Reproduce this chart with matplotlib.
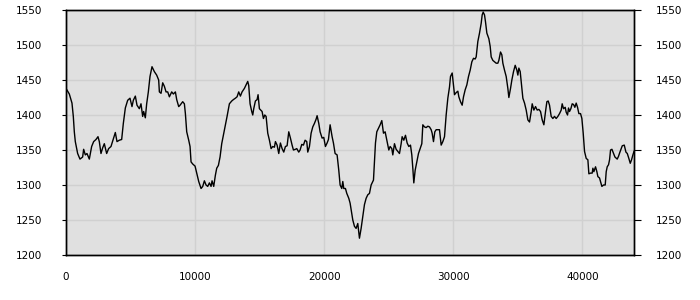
import matplotlib
matplotlib.use("Agg")
import matplotlib.pyplot as plt

x_values = [
    0, 256, 463, 566, 644, 721, 902, 1083, 1289, 1367, 1496, 1625, 1806, 1987,
    2142, 2322, 2478, 2581, 2710, 2839, 2968, 3149, 3304, 3485, 3666, 3821,
    3950, 4131, 4312, 4441, 4596, 4777, 4957, 5112, 5216, 5371, 5500, 5681,
    5810, 5939, 6016, 6145, 6249, 6378, 6507, 6662, 6843, 7024, 7179,
    7233, 7362, 7491, 7620, 7750, 7879, 8008, 8189, 8318, 8473, 8576, 8731,
    8835, 9041, 9170, 9248, 9351, 9506, 9609, 9687, 9816, 9997, 10126, 10281,
    10462, 10591, 10720, 10849, 10978, 11108, 11237, 11314, 11443, 11572,
    11676, 11805, 11934, 12063, 12192, 12322, 12477, 12657, 12838, 12967,
    13122, 13251, 13380, 13510, 13639, 13820, 13949, 14078, 14156, 14259,
    14388, 14466, 14543, 14672, 14802, 14879, 14982,
    15190, 15293, 15396, 15500, 15629, 15758, 15887, 16016, 16145, 16223,
    16352, 16481, 16610, 16739, 16869, 16998, 17127, 17256, 17385, 17514,
    17618, 17773, 17876, 18031, 18134, 18264, 18393, 18522, 18651, 18728,
    18858, 18987, 19116, 19245, 19374, 19452, 19581, 19684, 19839, 19968,
    20097, 20226, 20330, 20407, 20459, 20614, 20717, 20846, 21001, 21131,
    21234, 21363, 21441, 21518, 21647, 21751, 21906, 22009, 22112, 22216,
    22345, 22474, 22603, 22732, 22861, 22990, 23120, 23249, 23378, 23507,
    23637, 23818, 23895, 23973, 24076, 24205, 24334, 24464, 24593, 24722,
    24851, 25006, 25109, 25239, 25316, 25445, 25574, 25703, 25833, 25962,
    26039, 26168, 26298, 26427, 26556, 26685, 26788, 26866, 26943, 27047,
    27176, 27305, 27434, 27563, 27641, 27770, 27899, 28028, 28157, 28287,
    28364, 28467, 28571, 28674, 28803, 28932, 29062, 29191, 29320, 29449,
    29579, 29708, 29785, 29915, 30018, 30095, 30225, 30354, 30431, 30560,
    30689, 30793, 30922, 31051, 31180, 31309, 31439, 31568, 31697, 31774,
    31903, 32033, 32162, 32239, 32317, 32420, 32497, 32601, 32756, 32859,
    32937, 33066, 33195, 33324, 33453, 33531, 33660, 33763, 33841, 33970,
    34099, 34228, 34306, 34435, 34538, 34667, 34797, 34926, 35003, 35081,
    35184, 35287, 35391, 35520, 35649, 35778, 35907, 36037, 36114, 36243,
    36372, 36501, 36631, 36760, 36889, 37018, 37147, 37251, 37354,
    37456, 37585, 37714, 37843, 37972, 38102, 38231, 38360, 38437, 38541,
    38670, 38747, 38851, 38928, 39006, 39109, 39212, 39316, 39419, 39522,
    39626, 39729, 39858, 39962, 40065, 40168, 40297, 40427, 40504, 40633,
    40762, 40814, 40891, 41020, 41124, 41201, 41330, 41408, 41511, 41640,
    41770, 41847, 41925, 42028, 42106, 42183, 42290, 42400, 42523, 42700,
    42800, 42910, 43090, 43245, 43375, 43480, 43600, 43710, 43810, 43915,
    44000,
]

y_values = [
    1438, 1430, 1417, 1398, 1376, 1362, 1345, 1337, 1340, 1351, 1343, 1345, 1337, 1355,
    1362, 1365, 1369, 1362, 1345, 1353, 1359, 1345, 1352, 1355, 1366, 1375,
    1362, 1364, 1365, 1388, 1410, 1421, 1424, 1412, 1421, 1427, 1414, 1409,
    1416, 1398, 1405, 1396, 1416, 1433, 1455, 1469, 1462, 1457, 1450,
    1433, 1431, 1446, 1441, 1433, 1433, 1426, 1433, 1430, 1433, 1422, 1412,
    1414, 1419, 1416, 1402, 1376, 1364, 1355, 1333, 1330, 1327, 1317, 1305,
    1295, 1298, 1306, 1300, 1298, 1303, 1298, 1306, 1298, 1314,
    1324, 1328, 1340, 1359, 1371, 1383, 1398, 1416, 1420, 1422,
    1424, 1426, 1433, 1427, 1433, 1438, 1443, 1448, 1442, 1416,
    1405, 1400, 1409, 1420, 1422, 1429, 1409,
    1405, 1395, 1400, 1398, 1374, 1364, 1352, 1355, 1354, 1362,
    1357, 1345, 1360, 1352, 1347, 1355, 1356, 1376, 1367, 1357,
    1350, 1351, 1352, 1347, 1350, 1358, 1357, 1364, 1362, 1347,
    1355, 1374, 1383, 1388, 1394, 1399, 1388, 1376, 1367, 1368,
    1355, 1360, 1365, 1378, 1386, 1369, 1360, 1345, 1343, 1321,
    1300, 1295, 1305, 1295, 1295, 1288, 1281, 1274, 1262, 1250,
    1241, 1238, 1245, 1224, 1238, 1255, 1272, 1281, 1286, 1288,
    1300, 1307, 1333, 1360, 1376, 1381, 1386, 1392, 1374, 1376,
    1364, 1350, 1355, 1352, 1343, 1359, 1351, 1348, 1345, 1359,
    1369, 1364, 1371, 1360, 1355, 1357, 1343, 1324, 1303, 1321,
    1333, 1345, 1352, 1359, 1386, 1383, 1382, 1384, 1383, 1379,
    1374, 1362, 1376, 1379, 1379, 1379, 1357, 1362, 1369, 1400,
    1424, 1440, 1455, 1460, 1443, 1429, 1432, 1434, 1426, 1419,
    1414, 1426, 1436, 1443, 1455, 1464, 1476, 1481, 1480, 1483,
    1505, 1517, 1531, 1543, 1547, 1543, 1533, 1517, 1509, 1498,
    1483, 1478, 1476, 1474, 1474, 1478, 1490, 1486, 1474, 1464,
    1455, 1438, 1425, 1438, 1450, 1462, 1471, 1464, 1457, 1467,
    1462, 1443, 1424, 1417, 1407, 1393, 1390, 1405, 1416, 1407,
    1412, 1407, 1408, 1405, 1393, 1386, 1405, 1419, 1420,
    1414, 1398, 1395, 1398, 1395, 1398, 1402, 1407, 1416, 1409,
    1411, 1404, 1400, 1410, 1405, 1409, 1416, 1415, 1411, 1417,
    1411, 1402, 1402, 1395, 1374, 1348, 1338, 1336, 1316, 1317,
    1317, 1324, 1319, 1326, 1319, 1312, 1310, 1305, 1298, 1300,
    1300, 1319, 1326, 1329, 1336, 1350, 1351, 1346, 1340, 1337,
    1341, 1347, 1356, 1357, 1347, 1345, 1338, 1331, 1336, 1343,
    1348,
]

x_ticks = [0, 10000, 20000, 30000, 40000]
y_ticks = [1200, 1250, 1300, 1350, 1400, 1450, 1500, 1550]

fig = plt.figure(figsize=(7, 3), dpi=100)
ax = fig.add_axes([66 / 700, 45 / 300, 568 / 700, 245 / 300])
ax.set_facecolor("#e0e0e0")
ax.plot(x_values, y_values, color="black", linewidth=1.0)

ax.set_xlim(0, 44000)
ax.set_ylim(1200, 1550)
ax.set_xticks(x_ticks)
ax.set_yticks(y_ticks)
ax.set_xticklabels([str(v) for v in x_ticks])
ax.set_yticklabels([str(v) for v in y_ticks])

ax.grid(True, color="#d0d0d0", linewidth=1.0)
ax.set_axisbelow(True)

for sp in ax.spines.values():
    sp.set_color("black")
    sp.set_linewidth(1.0)

ax.tick_params(axis="x", length=0, pad=12, labelsize=7.5, colors="black")
ax.tick_params(axis="y", left=True, right=False, labelleft=True,
               labelright=False, length=3, pad=14, labelsize=7.5,
               colors="black", direction="out")

ax_r = ax.twinx()
ax_r.set_ylim(ax.get_ylim())
ax_r.set_yticks(y_ticks)
ax_r.set_yticklabels([str(v) for v in y_ticks])
ax_r.tick_params(axis="y", length=5, pad=11, labelsize=7.5, colors="black",
                 direction="out")
for sp in ax_r.spines.values():
    sp.set_color("black")
    sp.set_linewidth(1.0)

fig.savefig("out.png", dpi=100)
